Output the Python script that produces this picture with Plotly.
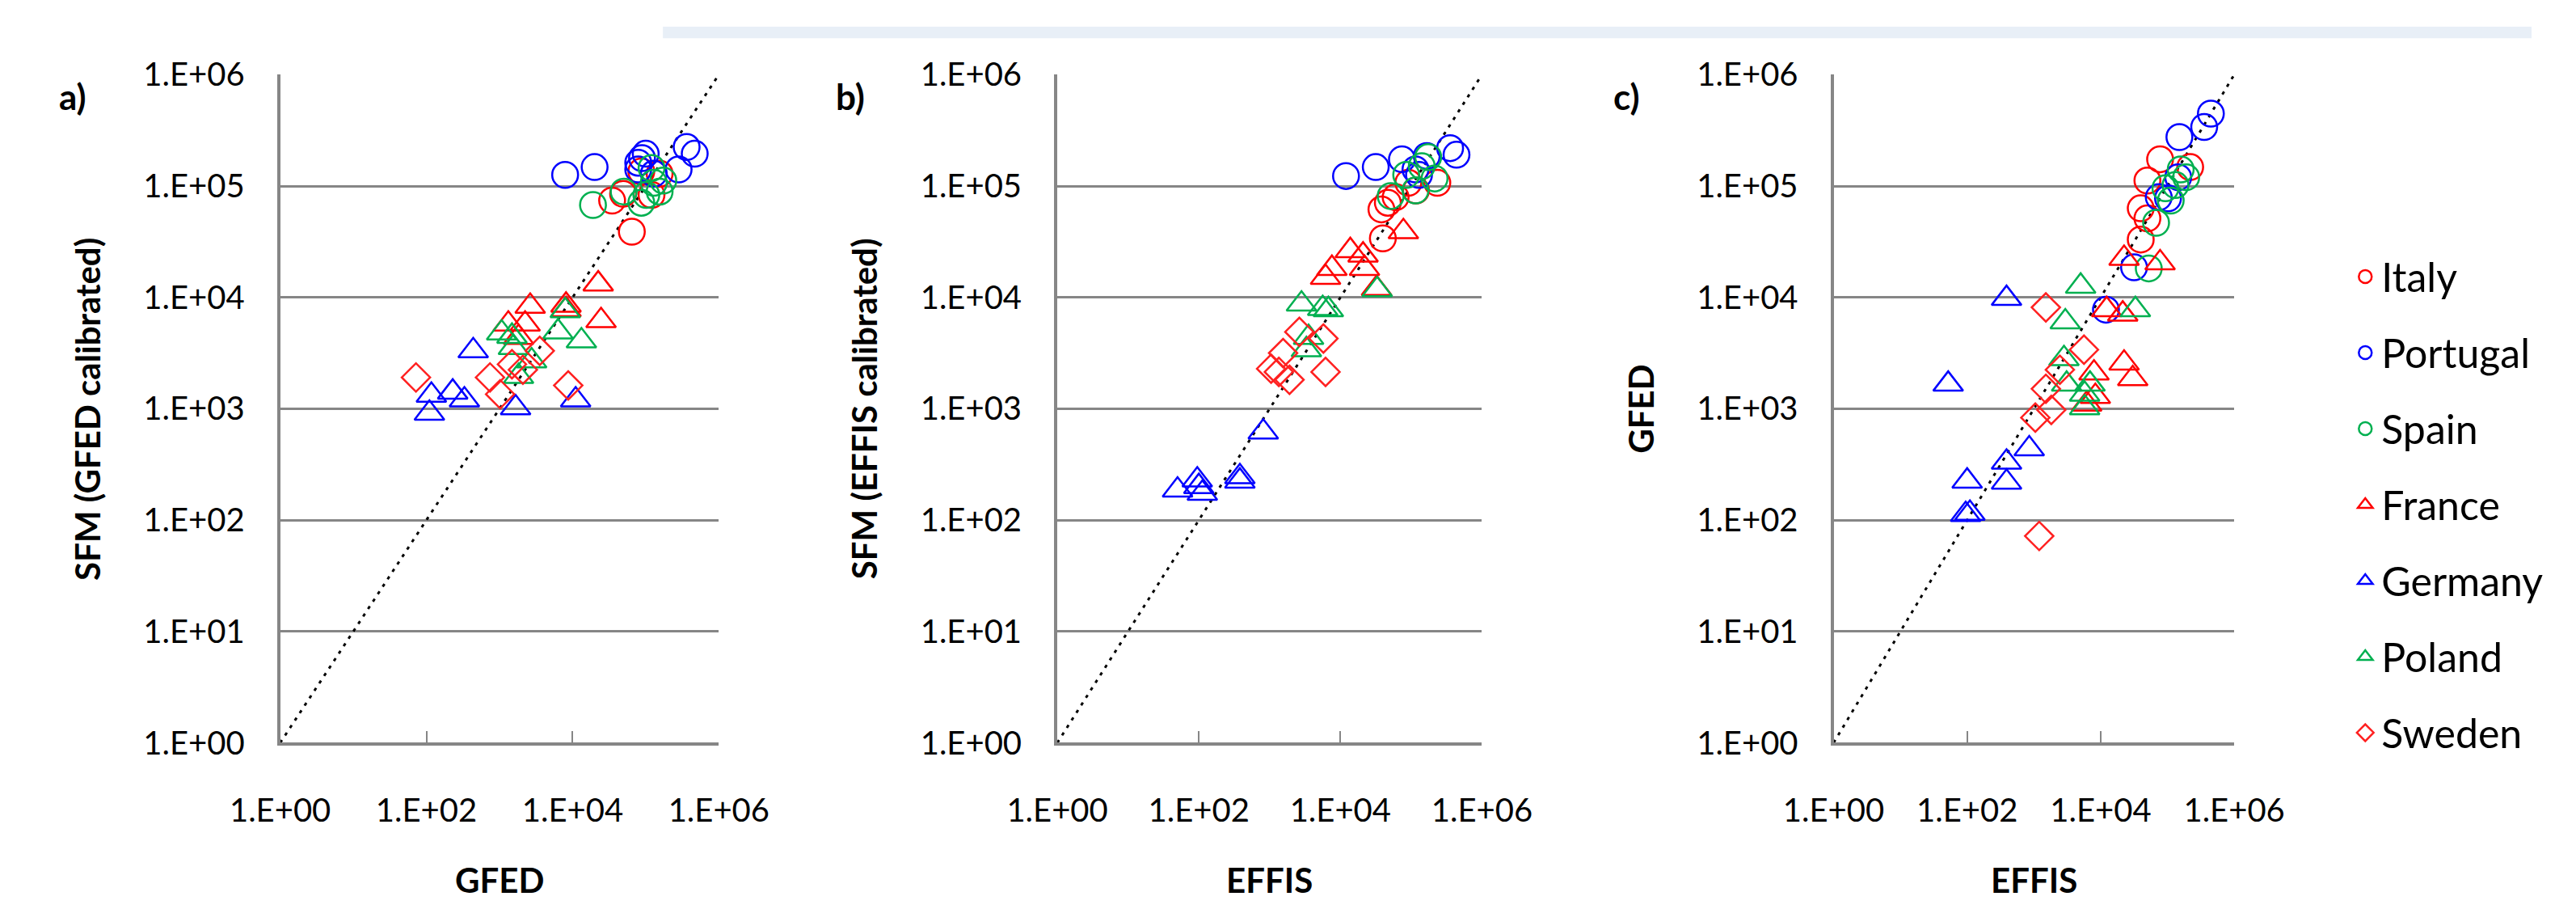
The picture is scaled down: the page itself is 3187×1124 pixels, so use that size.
import plotly.graph_objects as go

W, H = 3187, 1124

# ---------------- data ----------------
countries = ["Italy", "Portugal", "Spain", "France", "Germany", "Poland", "Sweden"]

x_tickvals = [1, 100, 10000, 1000000]
x_ticktext = ["1.E+00", "1.E+02", "1.E+04", "1.E+06"]
y_tickvals = [1, 10, 100, 1000, 10000, 100000, 1000000]
y_ticktext = ["1.E+00", "1.E+01", "1.E+02", "1.E+03", "1.E+04", "1.E+05", "1.E+06"]

# panel a) x = GFED, y = SFM (GFED calibrated)
a_italy_x = [64600, 34700, 49000, 87100, 155000, 120000]
a_italy_y = [38900, 74100, 85100, 135000, 129000, 83200]
a_portugal_x = [7900, 20000, 89000, 100000, 79000, 79000, 282000, 363000, 468000, 129000]
a_portugal_y = [126000, 148000, 178000, 195000, 162000, 141000, 141000, 224000, 195000, 129000]
a_spain_x = [19000, 50000, 87000, 120000, 129000, 155000, 102000, 174000]
a_spain_y = [67600, 89100, 70800, 145000, 107000, 89100, 83200, 112000]
a_france_x = [22400, 24500, 2630, 8130, 1320, 2240, 1820, 8130]
a_france_y = [13200, 6170, 8320, 8510, 5750, 5750, 4370, 7760]
a_germany_x = [437, 117, 110, 229, 331, 1660, 11000]
a_germany_y = [3310, 1320, 912, 1410, 1200, 1020, 1200]
a_poland_x = [1070, 1480, 6310, 7940, 13200, 2750, 1820, 1550]
a_poland_y = [4790, 4470, 4900, 7590, 4070, 2690, 1950, 3550]
a_sweden_x = [72, 741, 3550, 1020, 1480, 2090, 8710]
a_sweden_y = [1910, 1910, 3310, 1350, 2510, 2240, 1620]

# panel b) x = EFFIS, y = SFM (EFFIS calibrated)
b_italy_x = [39800, 38000, 46800, 60300, 234000, 117000, 91200]
b_italy_y = [33900, 61700, 70800, 79400, 107000, 91200, 107000]
b_portugal_x = [12000, 31600, 74100, 355000, 437000, 166000, 129000, 115000]
b_portugal_y = [123000, 148000, 174000, 219000, 191000, 186000, 126000, 141000]
b_spain_x = [174000, 214000, 115000, 51300, 141000, 85100]
b_spain_y = [182000, 117000, 91200, 81300, 151000, 126000]
b_france_x = [77600, 13800, 20900, 21900, 7590, 6170, 32400]
b_france_y = [38900, 26300, 24000, 18200, 18200, 15100, 12000]
b_germany_x = [813, 380, 380, 95, 50, 112, 100]
b_germany_y = [617, 245, 224, 229, 186, 174, 200]
b_poland_x = [33100, 2820, 5620, 6760, 3550, 3310]
b_poland_y = [11700, 8710, 7940, 7760, 4370, 3390]
b_sweden_x = [2630, 5750, 1550, 1050, 1350, 1910, 6170]
b_sweden_y = [4900, 4270, 3160, 2290, 2140, 1820, 2140]

# panel c) x = EFFIS, y = GFED
c_italy_x = [77600, 50100, 39800, 50100, 39800, 219000]
c_italy_y = [174000, 112000, 63100, 51300, 33100, 148000]
c_portugal_x = [447000, 355000, 151000, 145000, 102000, 74100, 31600, 12000]
c_portugal_y = [447000, 339000, 275000, 120000, 77600, 79400, 18600, 7760]
c_spain_x = [158000, 191000, 112000, 67600, 52500, 132000, 93300]
c_spain_y = [141000, 120000, 74100, 46800, 18200, 102000, 95500]
c_france_x = [22400, 77600, 12300, 21400, 22400, 30200, 7940, 8320, 6170]
c_france_y = [22400, 20400, 7760, 7080, 2570, 1860, 2090, 1290, 1100]
c_germany_x = [389, 52, 851, 389, 389, 100, 110, 95]
c_germany_y = [9770, 1660, 437, 331, 219, 224, 115, 112]
c_poland_x = [5010, 33100, 2950, 2820, 3090, 5750, 5750, 6920]
c_poland_y = [12600, 7760, 6030, 2820, 1660, 1350, 1020, 1660]
c_sweden_x = [1510, 5620, 2450, 1510, 1820, 1050, 1200]
c_sweden_y = [8130, 3390, 2240, 1510, 977, 832, 72]

one_to_one = [1, 1000000]

panel_x_titles = ["GFED", "EFFIS", "EFFIS"]
panel_y_titles = ["SFM (GFED calibrated)", "SFM (EFFIS calibrated)", "GFED"]
panel_letters = ["a)", "b)", "c)"]

# ---------------- styles ----------------
RED, BLUE, GREEN = "#FF0000", "#0000FF", "#00B050"
style = {
    "Italy": (RED, "circle-open", 32),
    "Portugal": (BLUE, "circle-open", 32),
    "Spain": (GREEN, "circle-open", 32),
    "France": (RED, "triangle-up-open", 32),
    "Germany": (BLUE, "triangle-up-open", 32),
    "Poland": (GREEN, "triangle-up-open", 32),
    "Sweden": ("#FF2020", "diamond-open", 27),
}

panels = [
    {"italy": (a_italy_x, a_italy_y), "portugal": (a_portugal_x, a_portugal_y),
     "spain": (a_spain_x, a_spain_y), "france": (a_france_x, a_france_y),
     "germany": (a_germany_x, a_germany_y), "poland": (a_poland_x, a_poland_y),
     "sweden": (a_sweden_x, a_sweden_y)},
    {"italy": (b_italy_x, b_italy_y), "portugal": (b_portugal_x, b_portugal_y),
     "spain": (b_spain_x, b_spain_y), "france": (b_france_x, b_france_y),
     "germany": (b_germany_x, b_germany_y), "poland": (b_poland_x, b_poland_y),
     "sweden": (b_sweden_x, b_sweden_y)},
    {"italy": (c_italy_x, c_italy_y), "portugal": (c_portugal_x, c_portugal_y),
     "spain": (c_spain_x, c_spain_y), "france": (c_france_x, c_france_y),
     "germany": (c_germany_x, c_germany_y), "poland": (c_poland_x, c_poland_y),
     "sweden": (c_sweden_x, c_sweden_y)},
]

# pixel layout
x_px = [(287, 852), (1288, 1835), (2288, 2804)]
y_top_px, y_bot_px = 62, 925
ydom = [1 - y_bot_px / H, 1 - y_top_px / H]

FONT = "Lato"
GRID = "#868686"

fig = go.Figure()

for i, pdata in enumerate(panels):
    xa = "x" if i == 0 else f"x{i+1}"
    ya = "y" if i == 0 else f"y{i+1}"
    fig.add_trace(go.Scatter(
        x=one_to_one, y=one_to_one, xaxis=xa, yaxis=ya, mode="lines",
        line=dict(color="black", width=3, dash="4px,7px"),
        showlegend=False, hoverinfo="skip"))
    for c in countries:
        col, sym, sz = style[c]
        xs, ys = pdata[c.lower()]
        fig.add_trace(go.Scatter(
            x=xs, y=ys, xaxis=xa, yaxis=ya, mode="markers", name=c,
            legendgroup=c, showlegend=(i == 0),
            marker=dict(symbol=sym, size=sz, color=col, line=dict(width=2.5, color=col))))

layout = dict(
    width=W, height=H,
    margin=dict(l=0, r=0, t=0, b=0),
    paper_bgcolor="white", plot_bgcolor="white",
    font=dict(family=FONT, color="black"),
    legend=dict(
        x=2952 / W, xanchor="left", y=1 - 282 / H, yanchor="top",
        font=dict(family=FONT, size=50, color="black"),
        traceorder="grouped", tracegroupgap=26, itemsizing="trace",
        bgcolor="rgba(0,0,0,0)", itemwidth=30),
    shapes=[dict(type="rect", xref="paper", yref="paper",
                 x0=780 / W, x1=1, y0=1 - 15 / H, y1=1,
                 line=dict(width=0), fillcolor="#e8eff7", layer="below")],
    annotations=[],
)

for i in range(3):
    sx = "" if i == 0 else str(i + 1)
    x0, x1 = x_px[i]
    layout["xaxis" + sx] = dict(
        type="log", range=[0, 6], domain=[x0 / W, x1 / W], anchor="y" + sx,
        tickvals=x_tickvals, ticktext=x_ticktext,
        ticks="inside", ticklen=14, tickwidth=2, tickcolor=GRID,
        showline=True, linecolor=GRID, linewidth=4,
        showgrid=False, zeroline=False,
        tickfont=dict(family=FONT, size=40, color="black"),
        ticklabelstandoff=46)
    layout["yaxis" + sx] = dict(
        type="log", range=[0, 6], domain=ydom, anchor="x" + sx,
        tickvals=y_tickvals, ticktext=y_ticktext, ticks="",
        showline=True, linecolor=GRID, linewidth=4,
        showgrid=True, gridcolor=GRID, gridwidth=3, zeroline=False,
        tickfont=dict(family=FONT, size=40, color="black"),
        ticklabelstandoff=32)
    # x title
    layout["annotations"].append(dict(
        text=f"<b>{panel_x_titles[i]}</b>", xref="paper", yref="paper",
        x=(x0 + x1) / 2 / W, y=1 - 1102 / H, xanchor="center", yanchor="middle",
        showarrow=False, font=dict(family=FONT, size=42, color="black")))
    # y title
    layout["annotations"].append(dict(
        text=f"<b>{panel_y_titles[i]}</b>", xref="paper", yref="paper",
        x=(x0 - 248) / W, y=1 - (y_top_px + y_bot_px) / 2 / H, textangle=-90,
        xanchor="center", yanchor="middle",
        showarrow=False, font=dict(family=FONT, size=42, color="black")))
    # panel letter
    layout["annotations"].append(dict(
        text=f"<b>{panel_letters[i]}</b>", xref="paper", yref="paper",
        x=(x0 - 267) / W, y=1 - 90 / H, xanchor="center", yanchor="middle",
        showarrow=False, font=dict(family=FONT, size=44, color="black")))

fig.update_layout(**layout)
fig.write_html("out.html")
